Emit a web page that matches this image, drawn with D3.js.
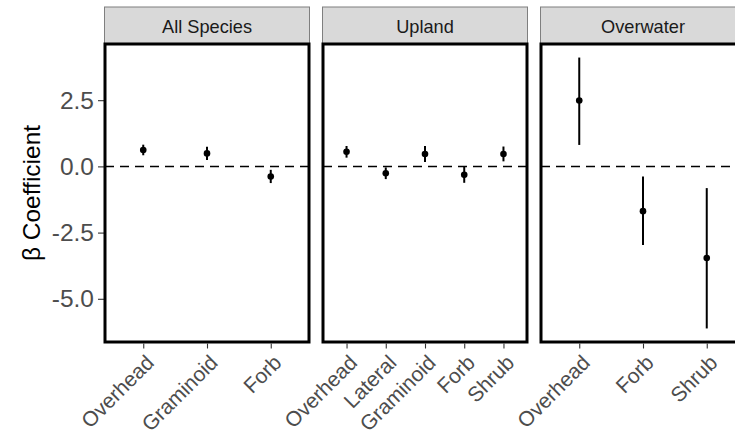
<!DOCTYPE html>
<html>
<head>
<meta charset="utf-8">
<script src="https://cdn.jsdelivr.net/npm/d3@7"></script>
<style>
  body { margin: 0; background: #fff; }
  svg, svg text { font-family: "Liberation Sans", Arial, sans-serif; }
</style>
</head>
<body>
<div id="container"></div>
<script>
// facets and their categories
const facets = ["All Species", "Upland", "Overwater"];
const allSpeciesCats = ["Overhead", "Graminoid", "Forb"];
const uplandCats = ["Overhead", "Lateral", "Graminoid", "Forb", "Shrub"];
const overwaterCats = ["Overhead", "Forb", "Shrub"];

// estimates and interval ends
const allSpeciesEst = [0.62, 0.49, -0.38];
const allSpeciesLo = [0.42, 0.24, -0.63];
const allSpeciesHi = [0.82, 0.74, -0.13];

const uplandEst = [0.55, -0.26, 0.47, -0.32, 0.47];
const uplandLo = [0.33, -0.48, 0.17, -0.62, 0.19];
const uplandHi = [0.77, -0.04, 0.77, -0.02, 0.75];

const overwaterEst = [2.49, -1.69, -3.46];
const overwaterLo = [0.81, -2.97, -6.12];
const overwaterHi = [4.11, -0.38, -0.82];

const yTicks = [-5.0, -2.5, 0.0, 2.5];

const panels = [
  { name: facets[0], cats: allSpeciesCats, est: allSpeciesEst, lo: allSpeciesLo, hi: allSpeciesHi },
  { name: facets[1], cats: uplandCats, est: uplandEst, lo: uplandLo, hi: uplandHi },
  { name: facets[2], cats: overwaterCats, est: overwaterEst, lo: overwaterLo, hi: overwaterHi }
];

let width = 735;
let height = 435;

// panel geometry
const panelLeft = 105;
const panelW = 204;
const panelGap = 14;
const panelTop = 44;
const panelBottom = 342;
const stripTop = 7;

const svg = d3
  .select("#container")
  .append("svg")
  .attr("width", width)
  .attr("height", height);

// shared y scale, with ggplot-like 5% expansion
const allVals = [].concat(allSpeciesLo, allSpeciesHi, uplandLo, uplandHi, overwaterLo, overwaterHi);
const yMin = d3.min(allVals);
const yMax = d3.max(allVals);
const pad = (yMax - yMin) * 0.05;
const yScale = d3.scaleLinear().domain([yMin - pad, yMax + pad]).range([panelBottom, panelTop]);

// hyphen minus like R prints it
const fmt = (d) => d3.format(".1f")(d).replace("\u2212", "-");

// y axis on the left of first panel
const yAxis = svg
  .append("g")
  .attr("transform", `translate(${panelLeft - 1}, 0)`)
  .call(d3.axisLeft(yScale).tickValues(yTicks).tickFormat(fmt).tickSize(6).tickPadding(4));
yAxis.attr("font-family", null).attr("font-size", null);
yAxis.select(".domain").remove();
yAxis.selectAll(".tick line").attr("stroke", "#333").attr("stroke-width", 1.1);
yAxis.selectAll(".tick text").attr("fill", "#4D4D4D").style("font-size", "24.5px");

// y title
svg
  .append("text")
  .attr("transform", `translate(31, ${(panelTop + panelBottom) / 2}) rotate(-90)`)
  .attr("text-anchor", "middle")
  .attr("dominant-baseline", "central")
  .style("font-size", "24.5px")
  .attr("fill", "#000")
  .text("\u03B2 Coefficient");

panels.forEach((p, i) => {
  const x0 = panelLeft + i * (panelW + panelGap);

  const xScale = d3
    .scalePoint()
    .domain(p.cats)
    .range([x0, x0 + panelW])
    .padding(0.6);

  const g = svg.append("g");

  // strip
  g.append("rect")
    .attr("x", x0 - 0.5)
    .attr("y", stripTop)
    .attr("width", panelW + 1)
    .attr("height", panelTop - stripTop)
    .attr("fill", "#D9D9D9")
    .attr("stroke", "#7F7F7F")
    .attr("stroke-width", 1);

  g.append("text")
    .attr("x", x0 + panelW / 2)
    .attr("y", (stripTop + panelTop) / 2 + 1)
    .attr("text-anchor", "middle")
    .attr("dominant-baseline", "central")
    .attr("fill", "#1A1A1A")
    .style("font-size", "18.2px")
    .text(p.name);

  // panel background
  g.append("rect")
    .attr("x", x0)
    .attr("y", panelTop)
    .attr("width", panelW)
    .attr("height", panelBottom - panelTop)
    .attr("fill", "#fff");

  // zero line
  g.append("line")
    .attr("x1", x0)
    .attr("x2", x0 + panelW)
    .attr("y1", yScale(0))
    .attr("y2", yScale(0))
    .attr("stroke", "#000")
    .attr("stroke-width", 1.5)
    .attr("stroke-dasharray", "9,6");

  const rows = p.cats.map((c, k) => ({ cat: c, est: p.est[k], lo: p.lo[k], hi: p.hi[k] }));

  // intervals
  g.selectAll(".bar")
    .data(rows)
    .enter()
    .append("line")
    .attr("x1", (d) => xScale(d.cat))
    .attr("x2", (d) => xScale(d.cat))
    .attr("y1", (d) => yScale(d.lo))
    .attr("y2", (d) => yScale(d.hi))
    .attr("stroke", "#000")
    .attr("stroke-width", 2);

  // points
  g.selectAll(".pt")
    .data(rows)
    .enter()
    .append("circle")
    .attr("cx", (d) => xScale(d.cat))
    .attr("cy", (d) => yScale(d.est))
    .attr("r", 3.3)
    .attr("fill", "#000");

  // panel border
  g.append("rect")
    .attr("x", x0)
    .attr("y", panelTop)
    .attr("width", panelW)
    .attr("height", panelBottom - panelTop)
    .attr("fill", "none")
    .attr("stroke", "#000")
    .attr("stroke-width", 3);

  // x axis
  const xAxis = g
    .append("g")
    .attr("transform", `translate(0, ${panelBottom + 1.5})`)
    .call(d3.axisBottom(xScale).tickSize(5).tickPadding(2));
  xAxis.attr("font-family", null).attr("font-size", null);
  xAxis.select(".domain").remove();
  xAxis.selectAll(".tick line").attr("stroke", "#333").attr("stroke-width", 1.1);
  xAxis
    .selectAll(".tick text")
    .attr("fill", "#4D4D4D")
    .style("font-size", "21px")
    .attr("text-anchor", "end")
    .attr("y", 0)
    .attr("dy", "0.71em")
    .attr("transform", "translate(1, 10) rotate(-45)");
});
</script>
</body>
</html>
